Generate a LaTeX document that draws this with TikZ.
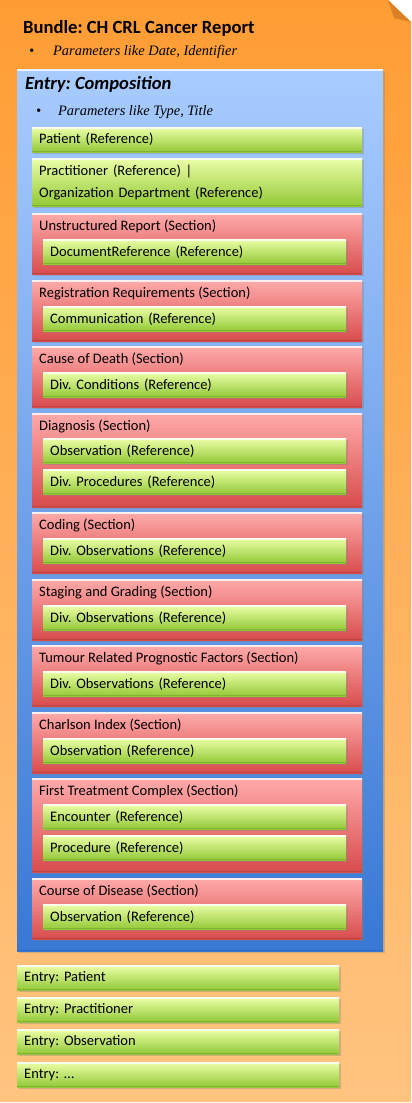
\documentclass[tikz,border=0pt]{standalone}
\usepackage{fontspec}
\setmainfont{Carlito}
\newfontfamily\paramfont{Liberation Serif}
\usetikzlibrary{shadows}
\frenchspacing
\definecolor{bundletop}{RGB}{255,157,52}
\definecolor{bundlebot}{RGB}{255,196,128}
\definecolor{foldcol}{RGB}{220,128,38}
\definecolor{comptop}{RGB}{168,204,255}
\definecolor{compbot}{RGB}{56,120,212}
\definecolor{sectop}{RGB}{255,170,170}
\definecolor{secbot}{RGB}{216,76,76}
\definecolor{reftop}{RGB}{236,255,168}
\definecolor{refbot}{RGB}{146,200,54}
\tikzset{
    bevel/.style={path picture={
        \draw[white, opacity=.8, line width=1.5pt]
            ([yshift=-.75pt]path picture bounding box.north west) --
            ([yshift=-.75pt]path picture bounding box.north east);
        \draw[black, opacity=.12, line width=1.5pt]
            ([yshift=.75pt]path picture bounding box.south west) --
            ([yshift=.75pt]path picture bounding box.south east);}}
}
\tikzset{
    boxshadow/.style={drop shadow={shadow xshift=1.5pt, shadow yshift=-1.5pt,
        opacity=.35}},
    compbox/.style={rectangle, anchor=north west, top color=comptop,
        bottom color=compbot, bevel, boxshadow, inner sep=0pt},
    secbox/.style={rectangle, anchor=north west, top color=sectop,
        bottom color=secbot, bevel, boxshadow, inner sep=0pt,
        minimum width=330pt},
    refbox/.style={rectangle, anchor=north west, top color=reftop,
        bottom color=refbot, bevel, boxshadow, minimum height=25pt,
        inner xsep=7pt, inner ysep=0pt, align=left,
        font=\fontsize{14.5}{22}\selectfont}
}
\tikzset{
    bigtitle/.style={anchor=west, inner sep=0pt,
        font=\fontsize{18.6}{21}\selectfont\bfseries},
    sectitle/.style={anchor=west, inner sep=0pt,
        font=\fontsize{14.5}{17}\selectfont},
    param/.style={anchor=west, inner sep=0pt,
        font=\fontsize{14.4}{17}\selectfont\paramfont\itshape}
}

\begin{document}
\begin{tikzpicture}[x=1pt, y=-1pt]
	\useasboundingbox (0,0) rectangle (412,1103);
	% bundle sheet with folded corner
	\shade[top color=bundletop, bottom color=bundlebot]
		(0,0) -- (388,0) -- (411,22) -- (411,1102) -- (0,1102) -- cycle;
	\fill[foldcol] (388,0) -- (411,22) -- (394,18) -- cycle;
	\node[bigtitle] (bundletitle) at (23,28) {Bundle: CH CRL Cancer Report};
	\node[param] (bundlebullet) at (29,52) {•};
	\node[param] (bundleparam) at (53,52) {Parameters like Date, Identifier};

	% composition entry
	\node[compbox, minimum width=366pt, minimum height=882pt] (comp) at (17,69) {};
	\node[bigtitle] (comptitle) at (25,84) {\itshape Entry: Composition};
	\node[param] (compbullet) at (36,112) {•};
	\node[param] (compparam) at (58,112) {Parameters like Type, Title};

	\node[refbox, text width=316pt] (pat) at (32,127) {Patient (Reference)};
	\node[refbox, text width=316pt, minimum height=48pt] (prac) at (32,158)
		{Practitioner (Reference) |\\Organization Department (Reference)};

	% sections
	\node[secbox, minimum height=61pt] (unstr) at (32,213) {};
	\node[sectitle] at (39,226) {Unstructured Report (Section)};
	\node[refbox, text width=289pt] (docref) at (43,239) {DocumentReference (Reference)};

	\node[secbox, minimum height=61pt] (regist) at (32,280) {};
	\node[sectitle] at (39,293) {Registration Requirements (Section)};
	\node[refbox, text width=289pt] (commref) at (43,306) {Communication (Reference)};

	\node[secbox, minimum height=61pt] (cause) at (32,346) {};
	\node[sectitle] at (39,359) {Cause of Death (Section)};
	\node[refbox, text width=289pt] (condref) at (43,372) {Div. Conditions (Reference)};

	\node[secbox, minimum height=94pt] (diag) at (32,413) {};
	\node[sectitle] at (39,426) {Diagnosis (Section)};
	\node[refbox, text width=289pt] (diagobs) at (43,438) {Observation (Reference)};
	\node[refbox, text width=289pt] (diagproc) at (43,469) {Div. Procedures (Reference)};

	\node[secbox, minimum height=61pt] (coding) at (32,512) {};
	\node[sectitle] at (39,525) {Coding (Section)};
	\node[refbox, text width=289pt] (codobs) at (43,538) {Div. Observations (Reference)};

	\node[secbox, minimum height=61pt] (staging) at (32,579) {};
	\node[sectitle] at (39,592) {Staging and Grading (Section)};
	\node[refbox, text width=289pt] (stagobs) at (43,605) {Div. Observations (Reference)};

	\node[secbox, minimum height=61pt] (tumour) at (32,645) {};
	\node[sectitle] at (39,658) {Tumour Related Prognostic Factors (Section)};
	\node[refbox, text width=289pt] (tumobs) at (43,671) {Div. Observations (Reference)};

	\node[secbox, minimum height=61pt] (charlson) at (32,712) {};
	\node[sectitle] at (39,725) {Charlson Index (Section)};
	\node[refbox, text width=289pt] (charobs) at (43,738) {Observation (Reference)};

	\node[secbox, minimum height=94pt] (treat) at (32,778) {};
	\node[sectitle] at (39,791) {First Treatment Complex (Section)};
	\node[refbox, text width=289pt] (encref) at (43,804) {Encounter (Reference)};
	\node[refbox, text width=289pt] (procref) at (43,835) {Procedure (Reference)};

	\node[secbox, minimum height=61pt] (course) at (32,878) {};
	\node[sectitle] at (39,891) {Course of Disease (Section)};
	\node[refbox, text width=289pt] (courseobs) at (43,904) {Observation (Reference)};

	% further entries
	\node[refbox, text width=308pt] (entpat) at (17,965) {Entry: Patient};
	\node[refbox, text width=308pt] (entprac) at (17,997) {Entry: Practitioner};
	\node[refbox, text width=308pt] (entobs) at (17,1029) {Entry: Observation};
	\node[refbox, text width=308pt] (entmore) at (17,1062) {Entry: …};
\end{tikzpicture}
\end{document}
